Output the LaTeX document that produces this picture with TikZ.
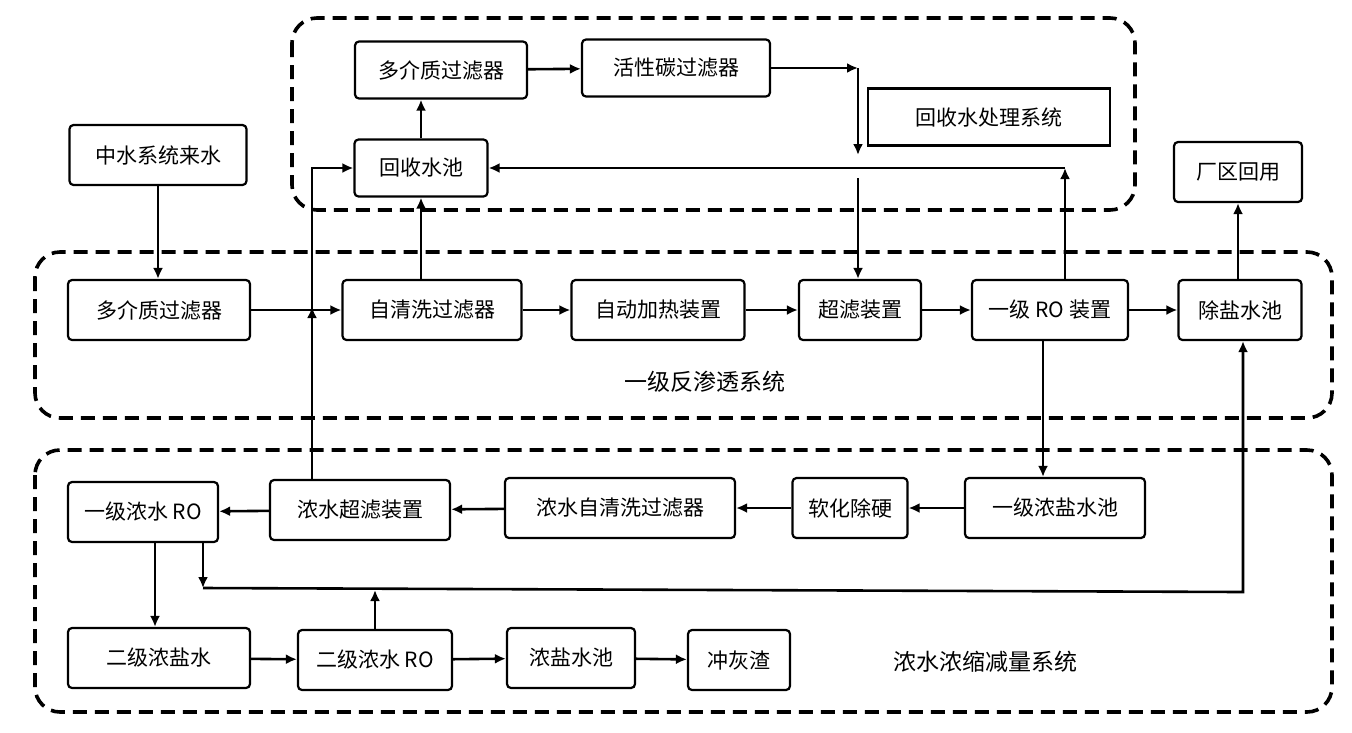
\documentclass[tikz,border=0pt]{standalone}
\usepackage{fontspec}
\setmainfont{Noto Sans CJK SC}
\usetikzlibrary{arrows.meta}

\begin{document}
\begin{tikzpicture}[x=1pt, y=-1pt,
  box/.style={draw, line width=2.2pt, rounded corners=4pt, minimum height=57pt, inner sep=2pt, font=\fontsize{21}{25}\selectfont},
  flow/.style={-{Latex[length=11pt,width=10pt]}, line width=2.6pt},
  group/.style={line width=3.6pt, dash pattern=on 14pt off 8pt, rounded corners=25pt}]
  \useasboundingbox (0,0) rectangle (1352,732);
  % system frames
  \draw[group] (292,18) rectangle (1135,210);
  \draw[group] (35,252) rectangle (1332,418);
  \draw[group] (35,450) rectangle (1332,712);
  \node[font=\fontsize{23}{27}\selectfont] (lbla) at (705,382) {一级反渗透系统};
  \node[font=\fontsize{23}{27}\selectfont] (lblb) at (985,662) {浓水浓缩减量系统};
  % recovery water
  \node[box, minimum width=172pt] (dj1) at (441,70) {多介质过滤器};
  \node[box, minimum width=188pt] (hxt) at (676,68) {活性碳过滤器};
  \node[box, rounded corners=0pt, minimum width=242pt] (hss) at (989,117) {回收水处理系统};
  \node[box, minimum width=133pt] (hsc) at (421,168) {回收水池};
  \node[box, minimum width=177pt, minimum height=60pt] (zs) at (158,155) {中水系统来水};
  \node[box, minimum width=128pt, minimum height=60pt] (cq) at (1238,172) {厂区回用};
  % first stage RO
  \node[box, minimum width=182pt, minimum height=60pt] (dj2) at (159,310) {多介质过滤器};
  \node[box, minimum width=179pt, minimum height=60pt] (zqx) at (432,310) {自清洗过滤器};
  \node[box, minimum width=173pt, minimum height=60pt] (jr) at (658,310) {自动加热装置};
  \node[box, minimum width=122pt, minimum height=60pt] (cl) at (860,310) {超滤装置};
  \node[box, minimum width=156pt, minimum height=60pt] (ro) at (1050,310) {一级 RO 装置};
  \node[box, minimum width=123pt, minimum height=60pt] (cy) at (1240,310) {除盐水池};
  % concentrate
  \node[box, minimum width=150pt, minimum height=60pt] (ro1) at (143,512) {一级浓水 RO};
  \node[box, minimum width=180pt, minimum height=60pt] (nccl) at (360,510) {浓水超滤装置};
  \node[box, minimum width=230pt, minimum height=60pt] (nzq) at (620,508) {浓水自清洗过滤器};
  \node[box, minimum width=115pt, minimum height=60pt] (rh) at (850,508) {软化除硬};
  \node[box, minimum width=180pt, minimum height=60pt] (nysc) at (1055,508) {一级浓盐水池};
  \node[box, minimum width=182pt, minimum height=60pt] (ejns) at (159,658) {二级浓盐水};
  \node[box, minimum width=154pt, minimum height=60pt] (ejro) at (375,660) {二级浓水 RO};
  \node[box, minimum width=128pt, minimum height=60pt] (nsc) at (571,658) {浓盐水池};
  \node[box, minimum width=102pt, minimum height=60pt] (chz) at (739,660) {冲灰渣};
  % junction points
  \coordinate (j1) at (312,310);
  \coordinate (j2) at (858,68);
  \coordinate (j3) at (858,155);
  \coordinate (j4) at (858,178);
  \coordinate (j5) at (1065,168);
  \coordinate (j6) at (203,588);
  \coordinate (j7) at (1243,592);
  \coordinate (j8) at (375,590);
  % connectors
  \draw[flow] (zs) -- (zs |- dj2.north);
  \draw[flow] (dj2) -- (zqx);
  \draw[flow] (j1) |- (hsc);
  \draw[flow] (nccl.north -| j1) -- ([yshift=3pt]j1);
  \draw[flow] (zqx.north -| hsc) -- (hsc);
  \draw[flow] (hsc) -- (hsc |- dj1.south);
  \draw[flow] (dj1) -- (hxt);
  \draw[flow] (hxt.east |- j2) -- (j2);
  \draw[flow] (j2) -- (j3);
  \draw[flow] (j4) -- (cl.north -| j4);
  \draw[flow] (zqx) -- (jr);
  \draw[flow] (jr) -- (cl);
  \draw[flow] (cl) -- (ro);
  \draw[flow] (ro) -- (cy);
  \draw[flow] (ro.north -| j5) -- (j5);
  \draw[flow] (j5) -- (hsc);
  \draw[flow] (cy.north -| cq) -- (cq);
  \draw[flow] (ro.south -| 1043,0) -- (nysc.north -| 1043,0);
  \draw[flow] (nysc) -- (rh);
  \draw[flow] (rh) -- (nzq);
  \draw[flow] (nzq) -- (nccl);
  \draw[flow] (nccl) -- (ro1);
  \draw[flow] (ro1.south -| 155,0) -- (ejns.north -| 155,0);
  \draw[flow] (ro1.south -| j6) -- (j6);
  \draw[flow] (j6) -- (j7) -- (cy.south -| j7);
  \draw[flow] (ejro.north) -- (j8);
  \draw[flow] (ejns) -- (ejro);
  \draw[flow] (ejro) -- (nsc);
  \draw[flow] (nsc) -- (chz);
\end{tikzpicture}
\end{document}
